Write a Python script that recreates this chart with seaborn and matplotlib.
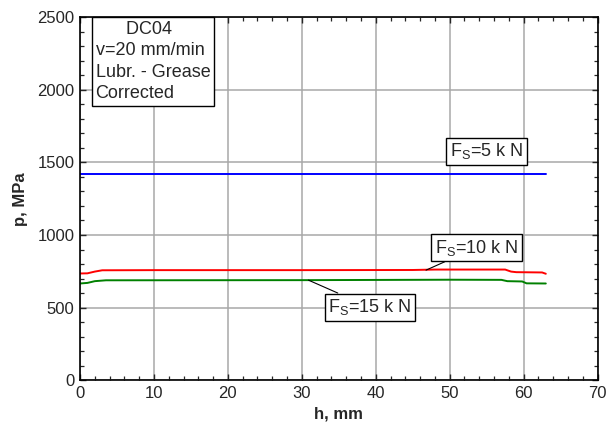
#Pressure vs. stroke for DC04, grease lubrication (corrected)
import numpy as np
import pandas as pd
import seaborn as sns
import matplotlib.pyplot as plt
from matplotlib.ticker import MultipleLocator

#Data
h_5kN = [0, 10, 20, 30, 40, 50, 63]
p_5kN = [1420, 1420, 1420, 1420, 1420, 1420, 1420]

h_10kN = [0, 1, 2, 3, 10, 30, 45, 48, 57.5, 58.3, 59, 62.5, 63]
p_10kN = [735, 736, 748, 757, 758, 758, 759, 762, 762, 748, 744, 742, 733]

h_15kN = [0, 1, 2, 3.5, 30, 50, 57, 57.8, 59.8, 60.4, 63]
p_15kN = [666, 670, 682, 688, 689, 692, 691, 682, 680, 667, 666]

series_names = ["5", "10", "15"]
series_colors = ["#0000ff", "#ff0000", "#008000"]

df = pd.concat([
    pd.DataFrame({"h": h_5kN, "p": p_5kN, "Fs": "5"}),
    pd.DataFrame({"h": h_10kN, "p": p_10kN, "Fs": "10"}),
    pd.DataFrame({"h": h_15kN, "p": p_15kN, "Fs": "15"}),
])

sns.set_style("ticks")
plt.rcParams["font.family"] = ["Liberation Sans", "DejaVu Sans"]
plt.rcParams["mathtext.fontset"] = "custom"
plt.rcParams["mathtext.rm"] = "Liberation Sans"

fig = plt.figure(figsize=(6.11, 4.32), dpi=100)
ax = fig.add_axes([0.131, 0.120, 0.847, 0.840])

sns.lineplot(data=df, x="h", y="p", hue="Fs", hue_order=series_names,
             palette=series_colors, linewidth=1.4, legend=False, ax=ax,
             sort=False, estimator=None)

ax.set_xlim(0, 70)
ax.set_ylim(0, 2500)
ax.xaxis.set_major_locator(MultipleLocator(10))
ax.xaxis.set_minor_locator(MultipleLocator(2))
ax.yaxis.set_major_locator(MultipleLocator(500))
ax.yaxis.set_minor_locator(MultipleLocator(100))
ax.tick_params(which="both", direction="in", top=True, right=True, labelsize=12, pad=4)
ax.tick_params(which="major", length=4, width=1)
ax.tick_params(which="minor", length=3, width=0.9)
ax.grid(True, which="major", color="#a8a8a8", linewidth=1.1)
ax.set_axisbelow(True)
for sp in ax.spines.values():
    sp.set_linewidth(1.2)
    sp.set_color("black")

ax.set_xlabel("h, mm", fontsize=12, fontweight="bold", labelpad=4)
ax.set_ylabel("p, MPa", fontsize=12, fontweight="bold", labelpad=7)

#Info box
ax.text(2.1, 2475, "      DC04\nv=20 mm/min\nLubr. - Grease\nCorrected", fontsize=13,
        ha="left", va="top", linespacing=1.34, zorder=5,
        bbox=dict(boxstyle="square,pad=0.22", fc="white", ec="black", lw=1))

#Series labels
box = dict(boxstyle="square,pad=0.2", fc="white", ec="black", lw=1)
ax.text(55.0, 1576, r"F$_\mathrm{S}$=5 k N", fontsize=13, ha="center", va="center", bbox=box, zorder=5)
ax.annotate(r"F$_\mathrm{S}$=10 k N", xy=(46.8, 758), xytext=(53.6, 913), fontsize=13,
            ha="center", va="center", bbox=box, zorder=5,
            arrowprops=dict(arrowstyle="-", color="black", lw=0.8, shrinkA=0, shrinkB=0))
ax.annotate(r"F$_\mathrm{S}$=15 k N", xy=(30.9, 689), xytext=(39.2, 503), fontsize=13,
            ha="center", va="center", bbox=box, zorder=5,
            arrowprops=dict(arrowstyle="-", color="black", lw=0.8, shrinkA=0, shrinkB=0))

fig.savefig("out.png", dpi=100)
